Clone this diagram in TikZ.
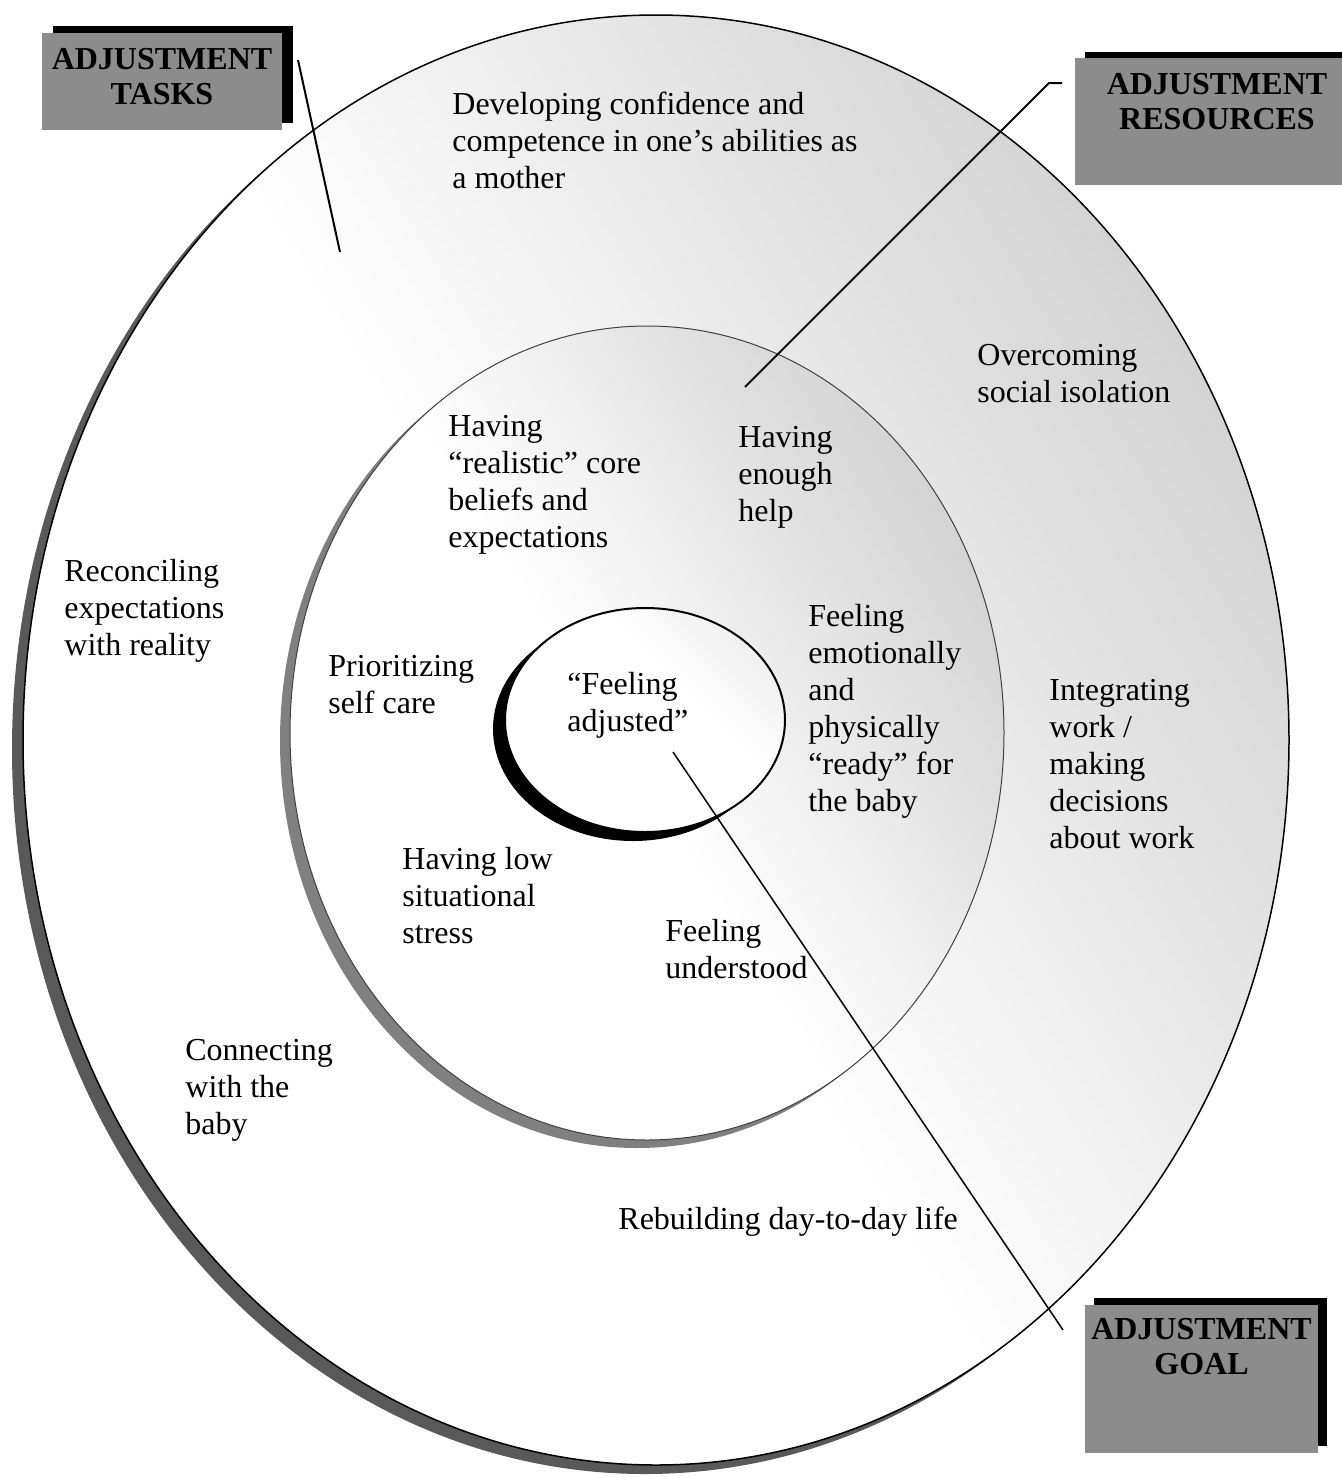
\documentclass[tikz,border=0pt]{standalone}
\usepackage{fontspec}
\setmainfont{Liberation Serif}
\usetikzlibrary{positioning,shadows}
\pgfdeclareverticalshading{ringshade}{100bp}{color(0bp)=(white); color(48bp)=(white); color(68bp)=(black!13); color(85bp)=(black!23); color(100bp)=(black!25)}
\pgfdeclareverticalshading{goalshade}{100bp}{color(0bp)=(white); color(60bp)=(white); color(85bp)=(black!10); color(100bp)=(black!12)}

\begin{document}
\begin{tikzpicture}[x=0.5pt, y=-0.5pt,
    font=\fontsize{16}{18.5}\selectfont,
    txt/.style={anchor=north west, align=left, inner sep=0pt},
    ring/.style={shading=ringshade, shading angle=-58},
    tagbox/.style={fill=black!45, inner sep=0pt},
    tagtext/.style={font=\fontsize{16}{17.5}\selectfont\bfseries, align=center, inner sep=0pt}]
    \useasboundingbox (0,0) rectangle (1341,1478);
    % outer ring: adjustment tasks
    \fill[black!65] (645,749) ellipse (633 and 725);
    \shadedraw[ring, line width=0.75pt] (656,740) ellipse (633 and 725);
    % middle ring: adjustment resources
    \fill[black!50] (637,741) ellipse (357 and 407);
    \shadedraw[ring, draw=black!75, line width=0.5pt] (647,733) ellipse (357 and 407);
    % centre: adjustment goal
    \fill[black] (633,729) ellipse (140 and 112);
    \shadedraw[shading=goalshade, shading angle=-45, line width=1pt] (645,720) ellipse (140 and 112);

    \node[txt] (mother) at (452,92) {Developing confidence and\\competence in one’s abilities as\\a mother};
    \node[txt] (isolation) at (977,344) {Overcoming\\social isolation};
    \node[txt] (help) at (738,426) {Having\\enough\\help};
    \node[txt] (beliefs) at (448,415) {Having\\“realistic” core\\beliefs and\\expectations};
    \node[txt] (reality) at (64,559) {Reconciling\\expectations\\with reality};
    \node[txt] (ready) at (808,604) {Feeling\\emotionally\\and\\physically\\“ready” for\\the baby};
    \node[txt] (selfcare) at (328,655) {Prioritizing\\self care};
    \node[txt] (adjusted) at (567,672) {“Feeling\\adjusted”};
    \node[txt] (work) at (1049,679) {Integrating\\work /\\making\\decisions\\about work};
    \node[txt] (stress) at (402,847) {Having low\\situational\\stress};
    \node[txt] (understood) at (665,919) {Feeling\\understood};
    \node[txt] (baby) at (185,1039) {Connecting\\with the\\baby};
    \node[txt] (dailylife) at (618,1207) {Rebuilding day-to-day life};

    % labels
    \node[tagbox, minimum width=120pt, minimum height=48.5pt,
        drop shadow={shadow xshift=5.5pt, shadow yshift=3.5pt, fill=black, opacity=1}] (tasks) at (162,81.5) {};
    \node[tagtext, below=7.5pt of tasks.north] (taskstext) {ADJUSTMENT\\TASKS};
    \node[tagbox, minimum width=142pt, minimum height=63.5pt,
        drop shadow={shadow xshift=5pt, shadow yshift=3pt, fill=black, opacity=1}] (resources) at (1217,121.5) {};
    \node[tagtext, below=7.5pt of resources.north] (resourcestext) {ADJUSTMENT\\RESOURCES};
    \node[tagbox, minimum width=116.5pt, minimum height=74pt,
        drop shadow={shadow xshift=4.5pt, shadow yshift=3.5pt, fill=black, opacity=1}] (goal) at (1201.5,1379) {};
    \node[tagtext, below=6.5pt of goal.north] (goaltext) {ADJUSTMENT\\GOAL};

    \coordinate (tasksa) at (298,60);
    \coordinate (tasksb) at (340,252);
    \coordinate (resa) at (1062,83);
    \coordinate (resb) at (1049,83);
    \coordinate (resc) at (745,387);
    \coordinate (goala) at (673,752);
    \coordinate (goalb) at (1063,1330);
    \draw[line width=1pt] (tasksa) -- (tasksb);
    \draw[line width=1pt] (resa) -- (resb) -- (resc);
    \draw[line width=0.75pt] (goala) -- (goalb);
\end{tikzpicture}
\end{document}
